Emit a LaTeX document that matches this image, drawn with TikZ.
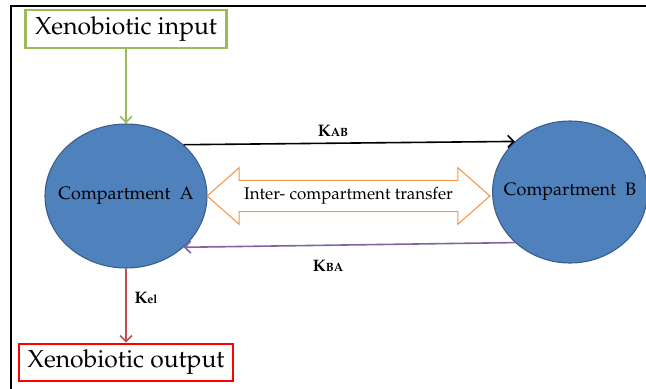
\documentclass[tikz,border=0pt]{standalone}
\usepackage[T1]{fontenc}
\usepackage{mathpazo}
\usepackage{tikz}
\usetikzlibrary{arrows.meta, shapes.geometric, shapes.arrows}
\definecolor{compblue}{RGB}{79, 129, 189}
\definecolor{compedge}{RGB}{56, 93, 138}
\definecolor{ingreen}{RGB}{155, 187, 89}
\definecolor{xorange}{RGB}{247, 150, 70}
\definecolor{bapurple}{RGB}{128, 100, 162}
\definecolor{elred}{RGB}{192, 80, 77}

\tikzset{
    iobox/.style={draw, line width=2pt, inner sep=0pt, font=\fontsize{18.5}{22}\selectfont},
    compart/.style={ellipse, draw=compedge, fill=compblue, line width=0.8pt, inner xsep=-8pt, inner ysep=0pt, font=\fontsize{13.5}{16}\selectfont},
    flow/.style={line width=1.2pt, -{Straight Barb[length=4.5pt, width=9pt]}},
    klabel/.style={font=\fontsize{12.5}{14}\selectfont\bfseries}
}

\begin{document}
\begin{tikzpicture}[x=0.75pt, y=-0.75pt]
    \useasboundingbox (0,0) rectangle (646,389);
    % frame
    \draw[line width=1.5pt] (11,389) -- (11,6) -- (646,6);

    \node[iobox, draw=ingreen, minimum width=150.75pt, minimum height=28.5pt] (inp) at (126,29) {Xenobiotic input};
    \node[iobox, draw=red, minimum width=160.5pt, minimum height=27.75pt] (outp) at (126,362.5) {Xenobiotic output};

    \node[compart, minimum width=121.5pt, minimum height=108pt] (compA) at (126,196) {Compartment~~A};
    \node[compart, minimum width=115.5pt, minimum height=106.5pt, inner xsep=-8.5pt] (compB) at (570,192) {Compartment~~B};

    \node[double arrow, draw=xorange, line width=0.8pt, fill=white, minimum height=212pt,
          inner xsep=2pt, inner ysep=5pt, double arrow head extend=9.4pt, double arrow tip angle=83,
          font=\fontsize{12.7}{15}\selectfont] (xfer) at (348.5,196) {Inter- compartment transfer};

    \draw[flow, ingreen] (inp.south) -- (compA.north);
    \draw[flow, black] (compA.north east) -- (compB.north west);
    \draw[flow, bapurple] (compB.south west) -- (compA.south east);
    \draw[flow, elred] (compA.south) -- (outp.north);

    \node[klabel] (kab) at (333,131) {K{\small AB}};
    \node[klabel] (kba) at (328,266) {K{\small BA}};
    \node[klabel] (kel) at (146,298) {K{\small el}};
\end{tikzpicture}
\end{document}
